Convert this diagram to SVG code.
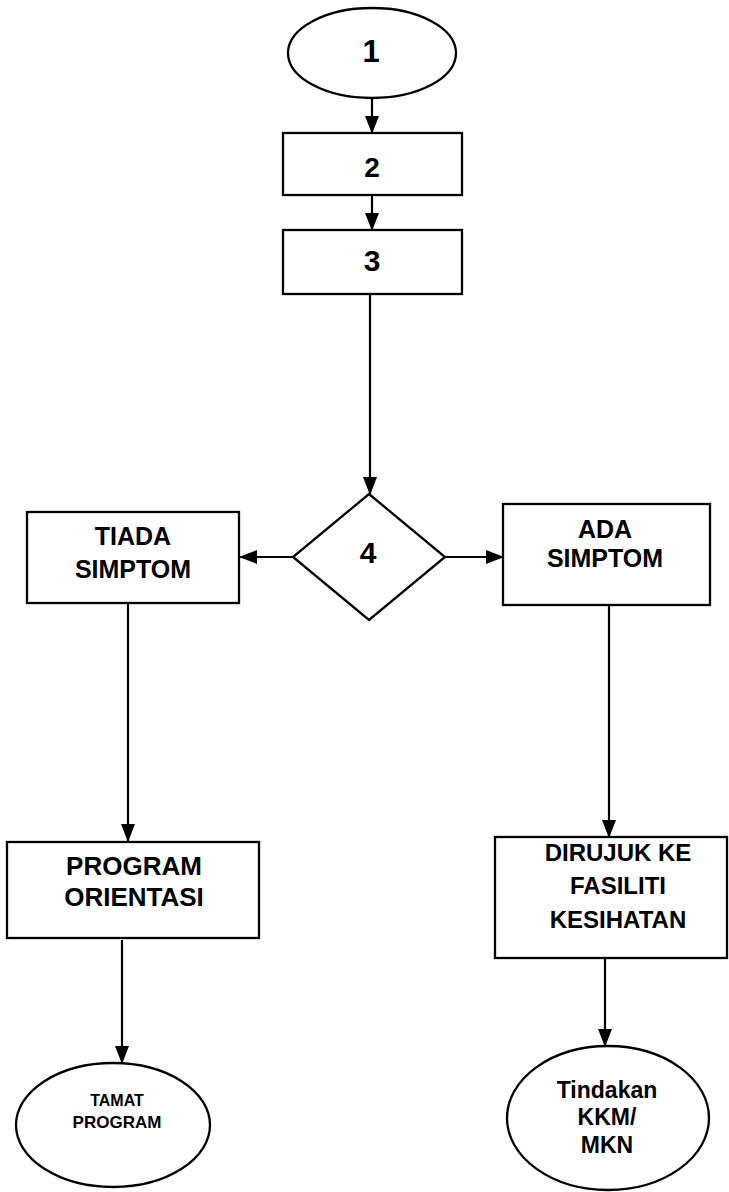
<svg xmlns="http://www.w3.org/2000/svg" width="729" height="1192" viewBox="0 0 729 1192">
<style>
.shape{fill:#fff;stroke:#000;stroke-width:2.3}
.conn{stroke:#000;stroke-width:2.2;fill:none}
.t{font-family:"Liberation Sans",Arial,sans-serif;font-weight:bold;fill:#000;text-anchor:middle}
</style>
<defs>
<marker id="ah" markerUnits="userSpaceOnUse" markerWidth="18" markerHeight="16" viewBox="0 0 18 16" refX="17" refY="8" orient="auto">
<path d="M0,1 L18,8 L0,15 Z" fill="#000"/>
</marker>
</defs>
<rect width="729" height="1192" fill="#fff"/>
<g id="connectors">
<line class="conn" x1="372" y1="98" x2="372" y2="133" marker-end="url(#ah)"/>
<line class="conn" x1="372" y1="195" x2="372" y2="230" marker-end="url(#ah)"/>
<line class="conn" x1="370" y1="294" x2="370" y2="494" marker-end="url(#ah)"/>
<line class="conn" x1="293" y1="557" x2="240" y2="557" marker-end="url(#ah)"/>
<line class="conn" x1="445" y1="557" x2="503" y2="557" marker-end="url(#ah)"/>
<line class="conn" x1="128" y1="603" x2="128" y2="841" marker-end="url(#ah)"/>
<line class="conn" x1="609" y1="605" x2="609" y2="837" marker-end="url(#ah)"/>
<line class="conn" x1="122" y1="940" x2="122" y2="1063" marker-end="url(#ah)"/>
<line class="conn" x1="605" y1="958" x2="605" y2="1046" marker-end="url(#ah)"/>
</g>
<g id="n1"><ellipse class="shape" cx="372" cy="53" rx="84" ry="45"/><text class="t" x="371" y="62" font-size="31">1</text></g>
<g id="n2"><rect class="shape" x="283" y="133" width="179" height="62"/><text class="t" x="372" y="177" font-size="28">2</text></g>
<g id="n3"><rect class="shape" x="283" y="230" width="179" height="64"/><text class="t" x="372" y="271" font-size="30">3</text></g>
<g id="n4"><polygon class="shape" points="369,494 445,557 369,620 293,557"/><text class="t" x="368" y="563" font-size="30">4</text></g>
<g id="tiada"><rect class="shape" x="27" y="512" width="212" height="91"/><text class="t" x="133" y="545" font-size="25">TIADA</text><text class="t" x="133" y="578" font-size="25">SIMPTOM</text></g>
<g id="ada"><rect class="shape" x="503" y="504" width="207" height="101"/><text class="t" x="605" y="538" font-size="25">ADA</text><text class="t" x="605" y="567" font-size="25">SIMPTOM</text></g>
<g id="program"><rect class="shape" x="7" y="842" width="252" height="96"/><text class="t" x="134" y="875" font-size="26">PROGRAM</text><text class="t" x="134" y="906" font-size="26">ORIENTASI</text></g>
<g id="dirujuk"><rect class="shape" x="495" y="837" width="232" height="121"/><text class="t" x="618" y="861" font-size="24">DIRUJUK KE</text><text class="t" x="618" y="894" font-size="24">FASILITI</text><text class="t" x="618" y="928" font-size="24">KESIHATAN</text></g>
<g id="tamat"><ellipse class="shape" cx="113" cy="1125" rx="97" ry="62"/><text class="t" x="117" y="1106" font-size="16">TAMAT</text><text class="t" x="117" y="1128" font-size="17">PROGRAM</text></g>
<g id="tindakan"><ellipse class="shape" cx="608" cy="1118" rx="101" ry="72"/><text class="t" x="607" y="1098" font-size="23">Tindakan</text><text class="t" x="607" y="1125" font-size="23">KKM/</text><text class="t" x="607" y="1153" font-size="23">MKN</text></g>
</svg>
